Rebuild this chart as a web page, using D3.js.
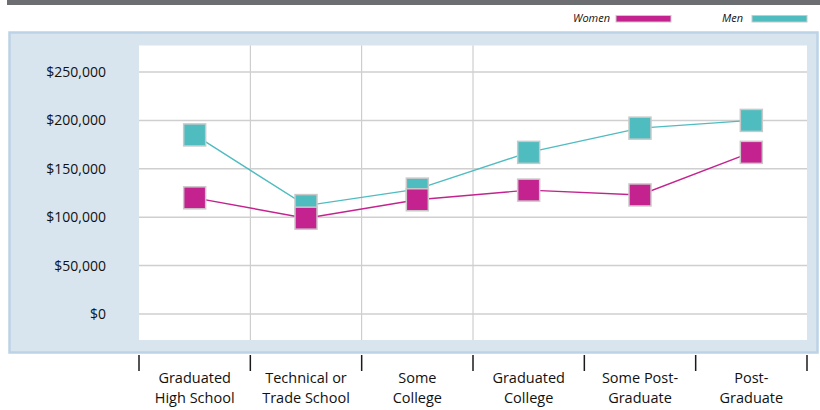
<!DOCTYPE html>
<html>
<head>
<meta charset="utf-8">
<script src="https://cdn.jsdelivr.net/npm/d3@7"></script>
<style>
  html, body { margin: 0; padding: 0; background: #ffffff; }
  svg { display: block; }
  text { font-family: "Open Sans", "Noto Sans", sans-serif; fill: #111111; }
</style>
</head>
<body>
<svg id="chart" width="820" height="410"></svg>
<script>
// Education levels along the x axis (two-line labels)
const categories = [
  ["Graduated", "High School"],
  ["Technical or", "Trade School"],
  ["Some", "College"],
  ["Graduated", "College"],
  ["Some Post-", "Graduate"],
  ["Post-", "Graduate"]
];
const categoryKeys = categories.map(c => c.join(" "));

// Average values by sex, in dollars
const women = [120000, 99000, 118000, 128000, 123000, 167000];
const men   = [185000, 112000, 129000, 167000, 192000, 200000];

const yTicks = [0, 50000, 100000, 150000, 200000, 250000];

const colors = { women: "#c4238f", men: "#4fbcc0" };

const svg = d3.select("#chart");

// Dark strip across the top
svg.append("rect")
  .attr("x", 7).attr("y", 0).attr("width", 813).attr("height", 5)
  .attr("fill", "#6d6e71");

// Light blue panel behind the plot
svg.append("rect")
  .attr("x", 9.5).attr("y", 32.5).attr("width", 808).attr("height", 320)
  .attr("fill", "#d8e5ef").attr("stroke", "#bcd2e6").attr("stroke-width", 2.5);

const plot = { left: 139, right: 807, top: 45.5, bottom: 340 };

svg.append("rect")
  .attr("x", plot.left).attr("y", plot.top)
  .attr("width", plot.right - plot.left).attr("height", plot.bottom - plot.top)
  .attr("fill", "#ffffff");

const x = d3.scaleBand().domain(categoryKeys).range([plot.left, plot.right]);
const y = d3.scaleLinear().domain([0, 250000]).range([314, 72]);

// Vertical separators between the first few columns
const boundaries = categoryKeys.map(k => x(k)).concat([plot.right]);
svg.append("g").selectAll("line")
  .data(boundaries.slice(1, 4))
  .join("line")
  .attr("x1", d => d).attr("x2", d => d)
  .attr("y1", plot.top).attr("y2", plot.bottom)
  .attr("stroke", "#c4c4c4").attr("stroke-width", 1);

// Horizontal grid lines
svg.append("g").selectAll("line")
  .data(yTicks)
  .join("line")
  .attr("x1", plot.left).attr("x2", plot.right)
  .attr("y1", d => y(d)).attr("y2", d => y(d))
  .attr("stroke", "#cfcfcf").attr("stroke-width", 1.5);

// Y axis labels
const yAxis = d3.axisLeft(y)
  .tickValues(yTicks)
  .tickSize(0)
  .tickPadding(0)
  .tickFormat(d => "$" + d3.format(",")(d));
const yg = svg.append("g").attr("transform", "translate(106,0)").call(yAxis);
yg.select(".domain").remove();
yg.selectAll("text").attr("font-size", 14).attr("fill", "#111111")
  .attr("font-family", "'Open Sans', sans-serif");

// Tick marks below the panel
svg.append("g").selectAll("line")
  .data(boundaries)
  .join("line")
  .attr("x1", d => d).attr("x2", d => d)
  .attr("y1", 355).attr("y2", 371)
  .attr("stroke", "#1a1a1a").attr("stroke-width", 1.5);

// Category labels
const lab = svg.append("g").selectAll("text")
  .data(categories)
  .join("text")
  .attr("text-anchor", "middle")
  .attr("font-size", 14.5)
  .attr("x", (d, i) => x(categoryKeys[i]) + x.bandwidth() / 2);
lab.selectAll("tspan")
  .data(d => d)
  .join("tspan")
  .attr("x", function () { return d3.select(this.parentNode).attr("x"); })
  .attr("y", (d, i) => 383 + i * 20)
  .text(d => d);

// Series lines and markers
const cx = i => x(categoryKeys[i]) + x.bandwidth() / 2;
const line = d3.line().x((d, i) => cx(i)).y(d => y(d));
const size = 22;

function drawSeries(values, color) {
  svg.append("path")
    .datum(values)
    .attr("d", line)
    .attr("fill", "none")
    .attr("stroke", color)
    .attr("stroke-width", 1.4);
  svg.append("g").selectAll("rect")
    .data(values)
    .join("rect")
    .attr("x", (d, i) => cx(i) - size / 2)
    .attr("y", d => y(d) - size / 2)
    .attr("width", size).attr("height", size)
    .attr("fill", color)
    .attr("stroke", "#c9c9c9").attr("stroke-width", 1.5);
}
drawSeries(men, colors.men);
drawSeries(women, colors.women);

// Legend
const legend = [
  { name: "Women", color: colors.women, tx: 610, sx: 616 },
  { name: "Men", color: colors.men, tx: 743, sx: 752 }
];
const lg = svg.append("g");
legend.forEach(l => {
  lg.append("text")
    .attr("x", l.tx).attr("y", 22)
    .attr("text-anchor", "end")
    .attr("font-size", 11).attr("font-style", "italic")
    .text(l.name);
  lg.append("rect")
    .attr("x", l.sx).attr("y", 15.5).attr("width", 55).attr("height", 6.5)
    .attr("fill", l.color).attr("stroke", "#c9c9c9").attr("stroke-width", 1);
});
</script>
</body>
</html>
